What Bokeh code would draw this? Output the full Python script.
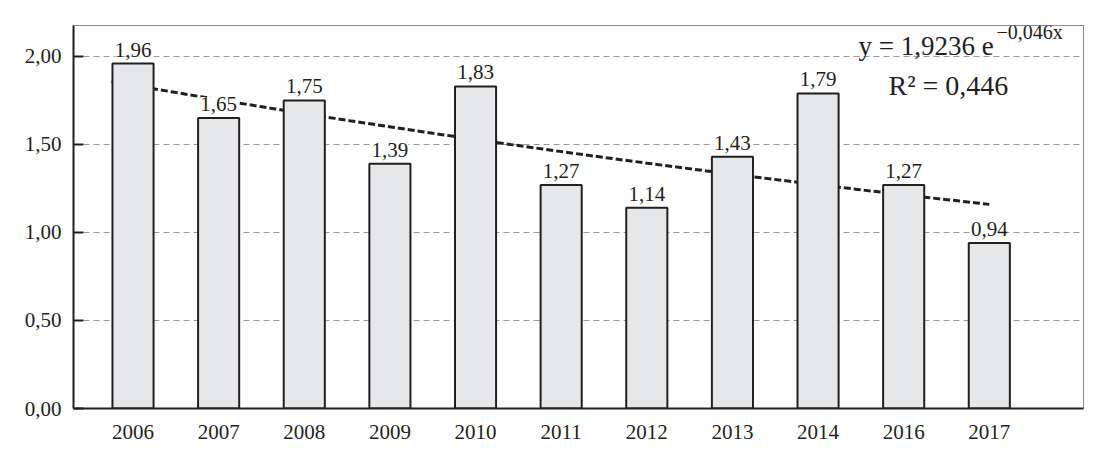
import numpy as np
from bokeh.plotting import figure
from bokeh.models import ColumnDataSource, FixedTicker, Label, Range1d
from bokeh.core.properties import value
from bokeh.embed import file_html
from bokeh.resources import INLINE

years = ["2006", "2007", "2008", "2009", "2010", "2011", "2012", "2013", "2014", "2016", "2017"]
values = [1.96, 1.65, 1.75, 1.39, 1.83, 1.27, 1.14, 1.43, 1.79, 1.27, 0.94]
y_ticks = [0.0, 0.5, 1.0, 1.5, 2.0]
y_tick_labels = ["0,00", "0,50", "1,00", "1,50", "2,00"]
trend_a = 1.9236
trend_b = -0.046
trend_r2 = "0,446"

FONT = "Liberation Serif"

idx = list(range(len(years)))
labels = [f"{v:.2f}".replace(".", ",") for v in values]
src = ColumnDataSource(dict(x=idx, top=values, lab=labels))

p = figure(width=1096, height=458, output_backend="svg", toolbar_location=None,
           x_range=Range1d(-0.695, 11.1), y_range=Range1d(0, 2.176),
           min_border_left=73, min_border_right=13, min_border_top=25, min_border_bottom=50)
p.background_fill_color = "white"
p.border_fill_color = "white"
p.outline_line_color = "#8a8a8a"
p.outline_line_width = 1

# grid
p.xgrid.visible = False
p.ygrid.ticker = FixedTicker(ticks=y_ticks[1:])
p.ygrid.grid_line_color = "#9a9a9a"
p.ygrid.grid_line_dash = "6 4"
p.ygrid.grid_line_width = 1

# trend line (from displayed equation), drawn behind bars
xs = np.linspace(0.75, 11, 60)
ys = trend_a * np.exp(trend_b * xs)
p.line(xs - 1, ys, line_color="#231f20", line_width=3, line_dash="7 3")

p.vbar(x="x", top="top", bottom=0, width=0.48, source=src,
       fill_color="#e6e7e8", line_color="#231f20", line_width=2)

p.text(x="x", y="top", text="lab", source=src, text_align="center",
       text_baseline="alphabetic", y_offset=-14,
       background_fill_color="white",
       text_font=value(FONT), text_font_size="21px", text_color="#231f20")

# axes
p.yaxis.ticker = FixedTicker(ticks=y_ticks)
p.yaxis.major_label_overrides = {t: l for t, l in zip(y_ticks, y_tick_labels)}
p.yaxis.major_tick_in = 10
p.yaxis.major_tick_out = 0
p.yaxis.minor_tick_line_color = None
p.yaxis.axis_line_width = 2
p.yaxis.major_tick_line_width = 2
p.yaxis.axis_line_color = "#231f20"
p.yaxis.major_tick_line_color = "#231f20"
p.yaxis.major_label_text_font = FONT
p.yaxis.major_label_text_font_size = "21px"
p.yaxis.major_label_text_color = "#231f20"
p.yaxis.major_label_standoff = 12

p.xaxis.ticker = FixedTicker(ticks=idx)
p.xaxis.major_label_overrides = {i: y for i, y in zip(idx, years)}
p.xaxis.major_tick_in = 0
p.xaxis.major_tick_out = 0
p.xaxis.minor_tick_line_color = None
p.xaxis.axis_line_width = 2
p.xaxis.axis_line_color = "#231f20"
p.xaxis.major_label_text_font = FONT
p.xaxis.major_label_text_font_size = "21px"
p.xaxis.major_label_text_color = "#231f20"
p.xaxis.major_label_standoff = 16

# equation annotation (screen units relative to the plot frame)
eq_main = Label(x=785, y=363, x_units="screen", y_units="screen",
                text="y = 1,9236 e", text_font=FONT, text_font_size="27px",
                text_color="#231f20", text_baseline="alphabetic")
eq_sup = Label(x=923, y=377, x_units="screen", y_units="screen",
               text="\u22120,046x", text_font=FONT, text_font_size="20px",
               text_color="#231f20", text_baseline="alphabetic")
r2 = Label(x=815, y=323, x_units="screen", y_units="screen",
           text="R\u00b2 = " + trend_r2, text_font=FONT, text_font_size="28px",
           text_color="#231f20", text_baseline="alphabetic")
for l in (eq_main, eq_sup, r2):
    p.add_layout(l)

open("out.html", "w").write(file_html(p, INLINE))
